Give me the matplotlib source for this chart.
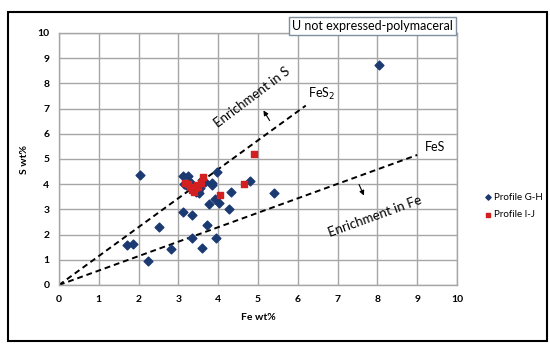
import matplotlib.pyplot as plt
from matplotlib.patches import Rectangle

plt.rcParams['font.family'] = ['Lato', 'DejaVu Sans']

# Profile G-H (blue diamonds)
gh_fe = [2.04, 3.12, 3.25, 3.96, 4.80, 5.39, 4.31, 3.84, 3.84, 3.67, 3.53, 3.77,
         3.91, 4.03, 4.26, 3.12, 3.35, 3.71, 2.52, 3.33, 3.94, 2.81, 3.60, 2.23,
         1.70, 1.86, 8.04, 3.15, 3.30, 3.40, 3.50, 3.55, 3.60, 3.45, 3.20]
gh_s = [4.37, 4.33, 4.33, 4.50, 4.13, 3.64, 3.68, 4.04, 3.97, 4.10, 3.64, 3.21,
        3.40, 3.24, 3.00, 2.91, 2.78, 2.37, 2.30, 1.85, 1.85, 1.44, 1.48, 0.96,
        1.60, 1.62, 8.73, 4.00, 4.10, 3.90, 3.75, 3.85, 4.15, 3.70, 3.95]

# Profile I-J (red squares)
ij_fe = [3.63, 4.66, 4.05, 4.91, 3.25, 3.33, 3.42, 3.50, 3.58, 3.17, 3.38, 3.46, 3.30]
ij_s = [4.30, 4.01, 3.57, 5.21, 4.00, 3.77, 3.84, 3.90, 4.03, 4.03, 3.70, 3.95, 3.90]

# reference lines (stoichiometric)
fes2_x = [0, 6.2]
fes2_y = [0, 7.12]
fes_x = [0, 9.0]
fes_y = [0, 5.16]

fig = plt.figure(figsize=(5.5, 3.44), dpi=100)
fig.patches.append(Rectangle((8 / 550, 3 / 344), 539 / 550, 329 / 344,
                             transform=fig.transFigure, fill=False,
                             edgecolor='black', linewidth=1.5))

ax = fig.add_axes([59 / 550, 59 / 344, 398 / 550, 252 / 344])
ax.set_xlim(0, 10)
ax.set_ylim(0, 10)
ax.set_xticks(range(11))
ax.set_yticks(range(11))
ax.grid(True, color='#a6a6a6', linewidth=1)
ax.set_axisbelow(True)
for sp in ax.spines.values():
    sp.set_color('#a6a6a6')
    sp.set_linewidth(1)
ax.tick_params(length=0, labelsize=7.5, pad=7)
for lab in ax.get_xticklabels() + ax.get_yticklabels():
    lab.set_fontweight('bold')

ax.plot(fes2_x, fes2_y, linestyle=(0, (3, 2)), color='black', linewidth=1.4)
ax.plot(fes_x, fes_y, linestyle=(0, (3, 2)), color='black', linewidth=1.4)

ax.scatter(gh_fe, gh_s, marker='D', s=20, color='#1b3a72', zorder=3, label='Profile G-H')
ax.scatter(ij_fe, ij_s, marker='s', s=24, color='#d21f1f', zorder=4, label='Profile I-J')

ax.text(6.25, 7.6, 'FeS$_2$', fontsize=9, va='center', ha='left')
ax.text(9.2, 5.48, 'FeS', fontsize=9, va='center', ha='left')
ax.text(4.85, 7.46, 'Enrichment in S', fontsize=9.5, rotation=37,
        ha='center', va='center', rotation_mode='anchor')
ax.text(7.94, 2.74, 'Enrichment in Fe', fontsize=9.5, rotation=20,
        ha='center', va='center', rotation_mode='anchor')
ax.annotate('', xy=(5.1, 7.02), xytext=(5.33, 6.43),
            arrowprops=dict(arrowstyle='-|>', color='black', lw=0.8, mutation_scale=7))
ax.annotate('', xy=(7.69, 3.45), xytext=(7.51, 4.09),
            arrowprops=dict(arrowstyle='-|>', color='black', lw=0.8, mutation_scale=7))

ax.set_xlabel('Fe wt%', fontsize=7.5, fontweight='bold', labelpad=7)
ax.set_ylabel('S wt%', fontsize=7.5, fontweight='bold', labelpad=6)

ax.text(0.99, 1.005, 'U not expressed-polymaceral', transform=ax.transAxes,
        fontsize=9, ha='right', va='bottom',
        bbox=dict(boxstyle='square,pad=0.25', facecolor='white', edgecolor='#7f8fa0', linewidth=1))

fig.legend(loc='center left', bbox_to_anchor=(473 / 550, 1 - 206 / 344), frameon=False,
           fontsize=7, handletextpad=0.1, markerscale=0.6, labelspacing=0.9,
           handlelength=1.2)

fig.savefig('out.png', dpi=100)
